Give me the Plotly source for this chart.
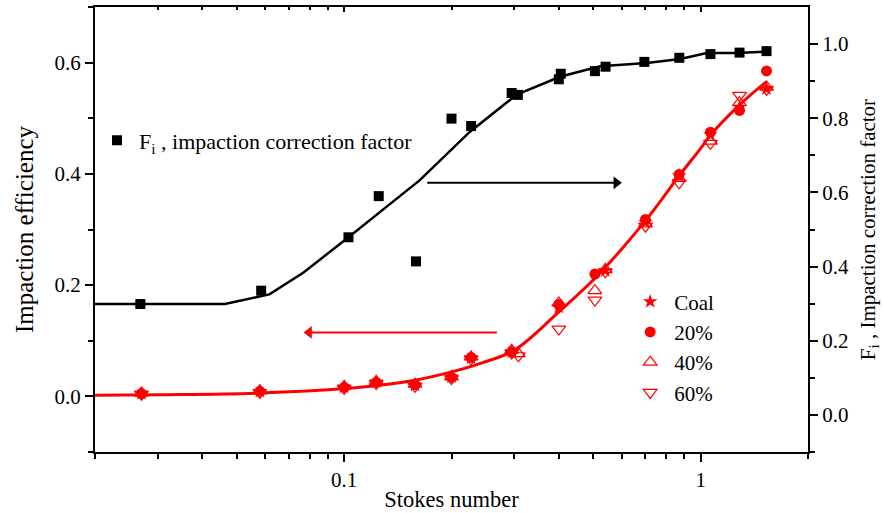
import numpy as np
import plotly.graph_objects as go

# ---------------- data ----------------
# F_i, impaction correction factor (right axis)
fi_x = [0.0268, 0.0585, 0.1028, 0.125, 0.159, 0.200, 0.227, 0.295, 0.307, 0.400, 0.405,
        0.505, 0.541, 0.695, 0.871, 1.065, 1.285, 1.53]
fi_y = [0.299, 0.335, 0.479, 0.590, 0.414, 0.799, 0.779, 0.868, 0.863, 0.905, 0.920,
        0.927, 0.939, 0.952, 0.963, 0.973, 0.977, 0.981]
# fitted F_i curve
fi_fit_x = [0.02, 0.0463, 0.0617, 0.0769, 0.1028, 0.126, 0.163, 0.225, 0.305, 0.403,
            0.522, 0.706, 0.876, 1.041, 1.26, 1.535]
fi_fit_y = [0.299, 0.299, 0.325, 0.384, 0.479, 0.547, 0.633, 0.763, 0.864, 0.912,
            0.940, 0.949, 0.960, 0.976, 0.976, 0.980]

# impaction efficiency (left axis)
coal_x = [0.027, 0.058, 0.1, 0.123, 0.158, 0.2, 0.227, 0.295, 0.4, 0.54, 0.7, 0.87,
          1.065, 1.285, 1.53]
coal_y = [0.005, 0.009, 0.017, 0.026, 0.020, 0.035, 0.069, 0.080, 0.160, 0.226, 0.313,
          0.397, 0.470, 0.520, 0.553]
p20_x = [0.027, 0.058, 0.1, 0.123, 0.158, 0.2, 0.227, 0.295, 0.4, 0.505, 0.7, 0.87,
         1.065, 1.285, 1.53]
p20_y = [0.005, 0.009, 0.016, 0.025, 0.021, 0.034, 0.070, 0.080, 0.165, 0.220, 0.318,
         0.399, 0.475, 0.514, 0.585]
p40_x = [0.027, 0.058, 0.1, 0.123, 0.158, 0.2, 0.227, 0.295, 0.308, 0.4, 0.505, 0.54,
         0.7, 0.87, 1.065, 1.285, 1.53]
p40_y = [0.006, 0.010, 0.018, 0.027, 0.022, 0.035, 0.071, 0.083, 0.077, 0.168, 0.190,
         0.228, 0.310, 0.392, 0.459, 0.528, 0.556]
p60_x = [0.027, 0.058, 0.1, 0.123, 0.158, 0.2, 0.227, 0.295, 0.308, 0.4, 0.505, 0.54,
         0.7, 0.87, 1.065, 1.285, 1.53]
p60_y = [0.004, 0.007, 0.014, 0.023, 0.018, 0.032, 0.067, 0.078, 0.073, 0.121, 0.173,
         0.224, 0.306, 0.384, 0.455, 0.541, 0.552]
# fitted efficiency curve
eff_fit_x = [0.02, 0.03, 0.058, 0.103, 0.125, 0.158, 0.2, 0.24, 0.3, 0.4, 0.51, 0.7,
             0.876, 1.0, 1.063, 1.29, 1.53]
eff_fit_y = [0.002, 0.003, 0.006, 0.0146, 0.020, 0.029, 0.044, 0.059, 0.083, 0.152,
             0.215, 0.316, 0.399, 0.446, 0.469, 0.525, 0.566]

# arrows (data coordinates; last point = centre of arrow head)
black_arrow_x = [0.171, 0.580]
black_arrow_y = [0.626, 0.626]   # right axis
red_arrow_x = [0.268, 0.0797]
red_arrow_y = [0.115, 0.115]     # left axis

x_major = [0.1, 1]
x_minor = [0.02, 0.03, 0.04, 0.05, 0.06, 0.07, 0.08, 0.09,
           0.2, 0.3, 0.4, 0.5, 0.6, 0.7, 0.8, 0.9, 2]

FONT = "Liberation Serif"
RED = "#FF0000"

fig = go.Figure()

# curves
fig.add_trace(go.Scatter(x=fi_fit_x, y=fi_fit_y, mode="lines", yaxis="y2",
                         line=dict(color="black", width=2.5), showlegend=False))
fig.add_trace(go.Scatter(x=eff_fit_x, y=eff_fit_y, mode="lines",
                         line=dict(color=RED, width=3, shape="spline"), showlegend=False))

# F_i markers
fig.add_trace(go.Scatter(x=fi_x, y=fi_y, mode="markers", yaxis="y2",
                         name="F<sub>i</sub> , impaction correction factor",
                         marker=dict(symbol="square", size=10, color="black"),
                         legend="legend"))

# efficiency markers
fig.add_trace(go.Scatter(x=coal_x, y=coal_y, mode="markers", name="Coal",
                         marker=dict(symbol="star", size=11, color=RED),
                         legend="legend2"))
fig.add_trace(go.Scatter(x=p20_x, y=p20_y, mode="markers", name="20%",
                         marker=dict(symbol="circle", size=11, color=RED),
                         legend="legend2"))
fig.add_trace(go.Scatter(x=p40_x, y=p40_y, mode="markers", name="40%",
                         marker=dict(symbol="triangle-up-open", size=12, color=RED,
                                     line=dict(width=1.2, color=RED)),
                         legend="legend2"))
fig.add_trace(go.Scatter(x=p60_x, y=p60_y, mode="markers", name="60%",
                         marker=dict(symbol="triangle-down-open", size=12, color=RED,
                                     line=dict(width=1.2, color=RED)),
                         legend="legend2"))

# arrows: shaft lines + triangular heads
fig.add_trace(go.Scatter(x=black_arrow_x, y=black_arrow_y, yaxis="y2", mode="lines",
                         line=dict(color="black", width=2), showlegend=False,
                         hoverinfo="skip"))
fig.add_trace(go.Scatter(x=[black_arrow_x[1]], y=[black_arrow_y[1]], yaxis="y2",
                         mode="markers", showlegend=False, hoverinfo="skip",
                         marker=dict(symbol="triangle-right", size=11, color="black",
                                     line=dict(width=0))))
fig.add_trace(go.Scatter(x=red_arrow_x, y=red_arrow_y, mode="lines",
                         line=dict(color=RED, width=2), showlegend=False,
                         hoverinfo="skip"))
fig.add_trace(go.Scatter(x=[red_arrow_x[1]], y=[red_arrow_y[1]],
                         mode="markers", showlegend=False, hoverinfo="skip",
                         marker=dict(symbol="triangle-left", size=11, color=RED,
                                     line=dict(width=0))))

# dummy trace for top mirror axis
fig.add_trace(go.Scatter(x=[0.02, 2], y=[None, None], xaxis="x2", mode="markers",
                         showlegend=False, hoverinfo="skip"))

tickfont = dict(family=FONT, size=21, color="black")

fig.update_layout(
    width=883, height=513,
    margin=dict(l=95, r=75, t=5, b=52),
    paper_bgcolor="white", plot_bgcolor="white",
    font=dict(family=FONT, size=21, color="black"),
    xaxis=dict(type="log", range=[np.log10(0.02), np.log10(2)],
               tickvals=x_major, ticktext=["0.1", "1"],
               ticks="outside", ticklen=8, tickwidth=1.5, tickcolor="black",
               minor=dict(tickvals=x_minor, ticks="outside", ticklen=5,
                          tickwidth=1.5, tickcolor="black"),
               showline=True, linecolor="black", linewidth=2, mirror=True,
               showgrid=False, zeroline=False, tickfont=tickfont,
               title=dict(text="Stokes number", font=dict(family=FONT, size=22.5),
                          standoff=0)),
    xaxis2=dict(type="log", range=[np.log10(0.02), np.log10(2)], overlaying="x",
                side="top", anchor="y", tickvals=x_major, showticklabels=False,
                ticks="inside", ticklen=5, tickwidth=1.5, tickcolor="black",
                minor=dict(tickvals=x_minor, ticks="inside", ticklen=3,
                           tickwidth=1.5, tickcolor="black"),
                showline=False, showgrid=False, zeroline=False),
    yaxis=dict(range=[-0.1, 0.7], tickvals=[0.0, 0.2, 0.4, 0.6],
               ticktext=["0.0", "0.2", "0.4", "0.6"],
               ticks="outside", ticklen=8, tickwidth=1.5, tickcolor="black",
               minor=dict(tickvals=[-0.1, 0.1, 0.3, 0.5, 0.7], ticks="outside",
                          ticklen=5, tickwidth=1.5, tickcolor="black"),
               showline=True, linecolor="black", linewidth=2,
               showgrid=False, zeroline=False, tickfont=tickfont,
               title=dict(text="Impaction efficiency", font=dict(family=FONT, size=25),
                          standoff=14)),
    yaxis2=dict(range=[-0.1, 1.1], overlaying="y", side="right", anchor="x",
                tickvals=[0.0, 0.2, 0.4, 0.6, 0.8, 1.0],
                ticktext=["0.0", "0.2", "0.4", "0.6", "0.8", "1.0"],
                ticks="outside", ticklen=8, tickwidth=1.5, tickcolor="black",
                minor=dict(tickvals=[-0.1, 0.1, 0.3, 0.5, 0.7, 0.9], ticks="outside",
                           ticklen=5, tickwidth=1.5, tickcolor="black"),
                showline=True, linecolor="black", linewidth=2,
                showgrid=False, zeroline=False, tickfont=tickfont,
                title=dict(text="F<sub>i</sub> , Impaction correction factor",
                           font=dict(family=FONT, size=21), standoff=12)),
    legend=dict(x=0.0, y=0.70, xanchor="left", yanchor="middle",
                bgcolor="rgba(0,0,0,0)", font=dict(family=FONT, size=22),
                itemwidth=34),
    legend2=dict(x=0.745, y=0.235, xanchor="left", yanchor="middle",
                 bgcolor="rgba(0,0,0,0)", font=dict(family=FONT, size=21),
                 tracegroupgap=0, itemwidth=38),
    showlegend=True,
)

fig.write_html("out.html")
